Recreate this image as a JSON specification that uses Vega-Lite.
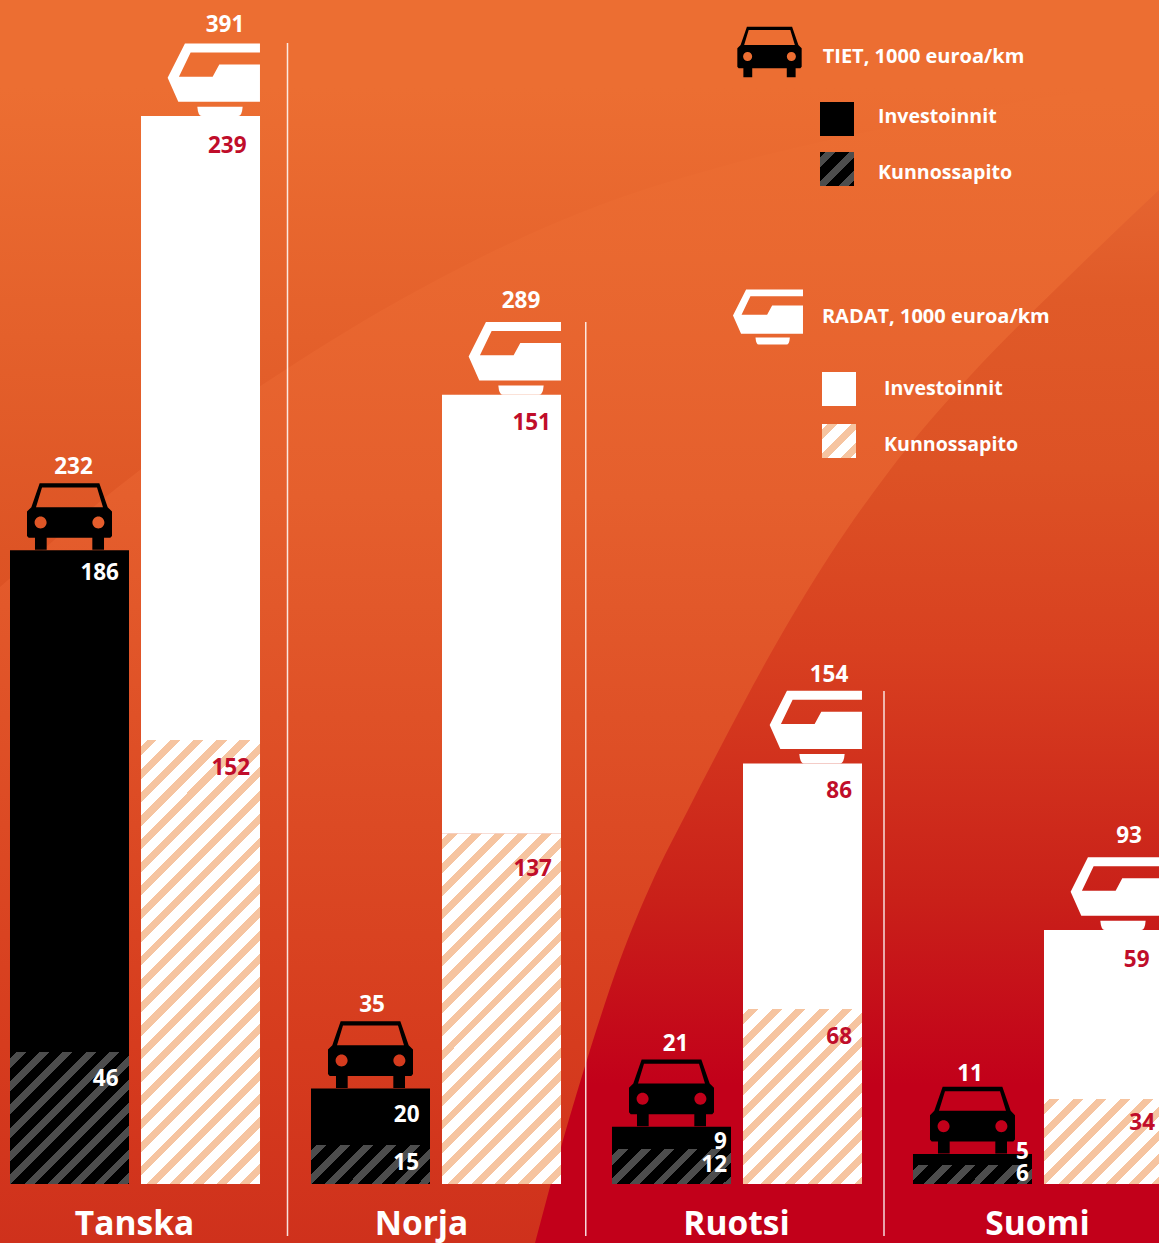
{"$schema":"https://vega.github.io/schema/vega-lite/v6.json","width":1159,"height":1243,"padding":0,"autosize":{"type":"none"},"config":{"view":{"stroke":null},"text":{"font":"Open Sans","fontWeight":700,"fontSize":22.5}},
"datasets":{"palkit":[
{"maa":"Tanska","muoto":"Tiet","laji":"Kunnossapito","alku":0,"loppu":48.3,"arvo":46},
{"maa":"Tanska","muoto":"Tiet","laji":"Investoinnit","alku":48.3,"loppu":232,"arvo":186},
{"maa":"Tanska","muoto":"Radat","laji":"Kunnossapito","alku":0,"loppu":162.6,"arvo":152},
{"maa":"Tanska","muoto":"Radat","laji":"Investoinnit","alku":162.6,"loppu":391,"arvo":239},
{"maa":"Norja","muoto":"Tiet","laji":"Kunnossapito","alku":0,"loppu":14.3,"arvo":15},
{"maa":"Norja","muoto":"Tiet","laji":"Investoinnit","alku":14.3,"loppu":35,"arvo":20},
{"maa":"Norja","muoto":"Radat","laji":"Kunnossapito","alku":0,"loppu":128.2,"arvo":137},
{"maa":"Norja","muoto":"Radat","laji":"Investoinnit","alku":128.2,"loppu":289,"arvo":151},
{"maa":"Ruotsi","muoto":"Tiet","laji":"Kunnossapito","alku":0,"loppu":12.8,"arvo":12},
{"maa":"Ruotsi","muoto":"Tiet","laji":"Investoinnit","alku":12.8,"loppu":21,"arvo":9},
{"maa":"Ruotsi","muoto":"Radat","laji":"Kunnossapito","alku":0,"loppu":64.1,"arvo":68},
{"maa":"Ruotsi","muoto":"Radat","laji":"Investoinnit","alku":64.1,"loppu":154,"arvo":86},
{"maa":"Suomi","muoto":"Tiet","laji":"Kunnossapito","alku":0,"loppu":7,"arvo":6},
{"maa":"Suomi","muoto":"Tiet","laji":"Investoinnit","alku":7,"loppu":11,"arvo":5},
{"maa":"Suomi","muoto":"Radat","laji":"Kunnossapito","alku":0,"loppu":31.1,"arvo":34},
{"maa":"Suomi","muoto":"Radat","laji":"Investoinnit","alku":31.1,"loppu":93,"arvo":59}],
"tausta":[{"x":0},{"x":1159}],
"kaariA":[{"x":0,"y":587},{"x":140,"y":470},{"x":262,"y":385},{"x":400,"y":300},{"x":600,"y":205},{"x":720,"y":167},{"x":900,"y":125},{"x":1050,"y":97},{"x":1159,"y":85}],
"kaariB":[{"x":535,"y":1243},{"x":563,"y":1140},{"x":590,"y":1050},{"x":620,"y":960},{"x":653,"y":880},{"x":687,"y":812},{"x":720,"y":748},{"x":767,"y":660},{"x":830,"y":555},{"x":890,"y":470},{"x":970,"y":376},{"x":1060,"y":285},{"x":1159,"y":190}],
"erottimet":[{"erotin":"Tanska-Norja","yla":417.8,"ala":-19},{"erotin":"Norja-Ruotsi","yla":315.6,"ala":-19},{"erotin":"Ruotsi-Suomi","yla":180.5,"ala":-19}]},
"resolve":{"scale":{"x":"independent","y":"independent"}},
"layer":[
{"data":{"name":"tausta"},"mark":{"type":"area","color":{"gradient":"linear","x1":0,"y1":0,"x2":0,"y2":1,"stops":[{"offset":0,"color":"#ec6e32"},{"offset":0.08,"color":"#ec6e32"},{"offset":0.4,"color":"#e55f2d"},{"offset":0.84,"color":"#d63c1e"},{"offset":1,"color":"#cf311c"}]}},"encoding":{"x":{"field":"x","type":"quantitative","scale":{"domain":[0,1159],"nice":false,"zero":false},"axis":null},"y":{"datum":0,"type":"quantitative","scale":{"domain":[1243,0],"nice":false,"zero":false},"axis":null},"y2":{"datum":1243}}},
{"data":{"name":"kaariA"},"mark":{"type":"area","interpolate":"monotone","color":{"gradient":"linear","x1":0,"y1":0,"x2":0,"y2":1,"stops":[{"offset":0,"color":"#ec6e32"},{"offset":0.15,"color":"#ec6e32"},{"offset":1,"color":"#dc5224"}]}},"encoding":{"x":{"field":"x","type":"quantitative","scale":{"domain":[0,1159],"nice":false,"zero":false},"axis":null},"y":{"field":"y","type":"quantitative","scale":{"domain":[1243,0],"nice":false,"zero":false},"axis":null},"y2":{"datum":0}}},
{"data":{"name":"kaariB"},"mark":{"type":"area","interpolate":"monotone","color":{"gradient":"linear","x1":0,"y1":0,"x2":0,"y2":1,"stops":[{"offset":0,"color":"#e56430"},{"offset":0.104,"color":"#e05a28"},{"offset":0.266,"color":"#dd5225"},{"offset":0.437,"color":"#d84020"},{"offset":0.674,"color":"#c92019"},{"offset":0.85,"color":"#c2001a"},{"offset":1,"color":"#c2001a"}]}},"encoding":{"x":{"field":"x","type":"quantitative","scale":{"domain":[0,1159],"nice":false,"zero":false},"axis":null},"y":{"field":"y","type":"quantitative","scale":{"domain":[1243,0],"nice":false,"zero":false},"axis":null},"y2":{"datum":1243}}},
{"data":{"name":"erottimet"},"mark":{"type":"rule","color":"#fff","strokeWidth":1.5,"opacity":0.85},"encoding":{"x":{"field":"erotin","type":"nominal","sort":null,"scale":{"type":"point","range":[287.5,884],"padding":0},"axis":null},"y":{"field":"yla","type":"quantitative","scale":{"domain":[-21.6,433.5],"nice":false,"zero":false},"axis":null},"y2":{"field":"ala"}}},
{"data":{"name":"palkit"},
"resolve":{"scale":{"shape":"independent"}},
"encoding":{"x":{"field":"maa","type":"nominal","axis":null,"scale":{"domain":["Tanska","Norja","Ruotsi","Suomi"],"range":[10,1163],"paddingInner":0.1694,"paddingOuter":0}},
"xOffset":{"field":"muoto","type":"nominal","scale":{"domain":["Tiet","Radat"],"paddingInner":0.0916,"paddingOuter":0}},
"y":{"field":"loppu","type":"quantitative","axis":null,"scale":{"domain":[-21.6,433.5],"nice":false,"zero":false}}},
"layer":[
{"transform":[{"filter":"datum.muoto=='Tiet'&&datum.laji=='Investoinnit'"}],"mark":{"type":"bar","color":"#000"},"encoding":{"y2":{"field":"alku"}}},
{"transform":[{"filter":"datum.muoto=='Radat'&&datum.laji=='Investoinnit'"}],"mark":{"type":"bar","color":"#fff"},"encoding":{"y2":{"field":"alku"}}},
{"transform":[{"filter":"datum.arvo<0"}],"mark":{"type":"point","filled":true,"opacity":1,"strokeWidth":0,"color":"#000"},"encoding":{"shape":{"field":"laji","type":"nominal","scale":{"domain":["Investoinnit"],"range":["M-1 -.882L1 -.882L1 1.118L-1 1.118Z"]},"legend":{"orient":"none","legendX":820,"legendY":100,"title":null,"padding":0,"symbolSize":1156,"symbolStrokeWidth":0,"symbolOpacity":1,"labelOffset":24,"labelFont":"Open Sans","labelFontWeight":700,"labelFontSize":19.6,"labelColor":"#fff"}}}},
{"transform":[{"filter":"datum.arvo<0"}],"mark":{"type":"point","filled":true,"opacity":1,"strokeWidth":0,"color":{"gradient":"linear","x1":0,"y1":0,"x2":1,"y2":1,"stops":[{"offset":0,"color":"#000"},{"offset":0.088,"color":"#000"},{"offset":0.088,"color":"#4d4d4d"},{"offset":0.235,"color":"#4d4d4d"},{"offset":0.235,"color":"#000"},{"offset":0.431,"color":"#000"},{"offset":0.431,"color":"#4d4d4d"},{"offset":0.578,"color":"#4d4d4d"},{"offset":0.578,"color":"#000"},{"offset":0.775,"color":"#000"},{"offset":0.775,"color":"#4d4d4d"},{"offset":0.922,"color":"#4d4d4d"},{"offset":0.922,"color":"#000"},{"offset":1,"color":"#000"}]}},"encoding":{"shape":{"field":"laji","type":"nominal","scale":{"domain":["Kunnossapito"],"range":["M-1 -1.235L1 -1.235L1 .765L-1 .765Z"]},"legend":{"orient":"none","legendX":820,"legendY":156,"title":null,"padding":0,"symbolSize":1156,"symbolStrokeWidth":0,"symbolOpacity":1,"labelOffset":24,"labelFont":"Open Sans","labelFontWeight":700,"labelFontSize":19.6,"labelColor":"#fff"}}}},
{"transform":[{"filter":"datum.arvo<0"}],"mark":{"type":"point","filled":true,"opacity":1,"strokeWidth":0,"color":"#fff"},"encoding":{"shape":{"field":"laji","type":"nominal","scale":{"domain":["Investoinnit"],"range":["M-1 -1L1 -1L1 1L-1 1Z"]},"legend":{"orient":"none","legendX":822,"legendY":372,"title":null,"padding":0,"symbolSize":1156,"symbolStrokeWidth":0,"symbolOpacity":1,"labelOffset":28,"labelFont":"Open Sans","labelFontWeight":700,"labelFontSize":19.6,"labelColor":"#fff"}}}},
{"transform":[{"filter":"datum.arvo<0"}],"mark":{"type":"point","filled":true,"opacity":1,"strokeWidth":0,"color":{"gradient":"linear","x1":0,"y1":0,"x2":1,"y2":1,"stops":[{"offset":0,"color":"#fff"},{"offset":0.088,"color":"#fff"},{"offset":0.088,"color":"#f6c4a0"},{"offset":0.235,"color":"#f6c4a0"},{"offset":0.235,"color":"#fff"},{"offset":0.431,"color":"#fff"},{"offset":0.431,"color":"#f6c4a0"},{"offset":0.578,"color":"#f6c4a0"},{"offset":0.578,"color":"#fff"},{"offset":0.775,"color":"#fff"},{"offset":0.775,"color":"#f6c4a0"},{"offset":0.922,"color":"#f6c4a0"},{"offset":0.922,"color":"#fff"},{"offset":1,"color":"#fff"}]}},"encoding":{"shape":{"field":"laji","type":"nominal","scale":{"domain":["Kunnossapito"],"range":["M-1 -1.235L1 -1.235L1 .765L-1 .765Z"]},"legend":{"orient":"none","legendX":822,"legendY":428,"title":null,"padding":0,"symbolSize":1156,"symbolStrokeWidth":0,"symbolOpacity":1,"labelOffset":28,"labelFont":"Open Sans","labelFontWeight":700,"labelFontSize":19.6,"labelColor":"#fff"}}}},
{"transform":[{"filter":"datum.arvo==46"}],"mark":{"type":"bar","color":{"gradient":"linear","x1":0,"y1":0,"x2":0.9457,"y2":1.049,"stops":[{"offset":0,"color":"#000"},{"offset":0.024,"color":"#000"},{"offset":0.024,"color":"#4d4d4d"},{"offset":0.064,"color":"#4d4d4d"},{"offset":0.064,"color":"#000"},{"offset":0.117,"color":"#000"},{"offset":0.117,"color":"#4d4d4d"},{"offset":0.157,"color":"#4d4d4d"},{"offset":0.157,"color":"#000"},{"offset":0.21,"color":"#000"},{"offset":0.21,"color":"#4d4d4d"},{"offset":0.25,"color":"#4d4d4d"},{"offset":0.25,"color":"#000"},{"offset":0.303,"color":"#000"},{"offset":0.303,"color":"#4d4d4d"},{"offset":0.343,"color":"#4d4d4d"},{"offset":0.343,"color":"#000"},{"offset":0.396,"color":"#000"},{"offset":0.396,"color":"#4d4d4d"},{"offset":0.436,"color":"#4d4d4d"},{"offset":0.436,"color":"#000"},{"offset":0.489,"color":"#000"},{"offset":0.489,"color":"#4d4d4d"},{"offset":0.529,"color":"#4d4d4d"},{"offset":0.529,"color":"#000"},{"offset":0.582,"color":"#000"},{"offset":0.582,"color":"#4d4d4d"},{"offset":0.622,"color":"#4d4d4d"},{"offset":0.622,"color":"#000"},{"offset":0.675,"color":"#000"},{"offset":0.675,"color":"#4d4d4d"},{"offset":0.714,"color":"#4d4d4d"},{"offset":0.714,"color":"#000"},{"offset":0.768,"color":"#000"},{"offset":0.768,"color":"#4d4d4d"},{"offset":0.807,"color":"#4d4d4d"},{"offset":0.807,"color":"#000"},{"offset":0.861,"color":"#000"},{"offset":0.861,"color":"#4d4d4d"},{"offset":0.9,"color":"#4d4d4d"},{"offset":0.9,"color":"#000"},{"offset":0.954,"color":"#000"},{"offset":0.954,"color":"#4d4d4d"},{"offset":0.993,"color":"#4d4d4d"},{"offset":0.993,"color":"#000"},{"offset":1,"color":"#000"}]}},"encoding":{"y2":{"field":"alku"}}},
{"transform":[{"filter":"datum.arvo==15"}],"mark":{"type":"bar","color":{"gradient":"linear","x1":0,"y1":0,"x2":1.199,"y2":0.3929,"stops":[{"offset":0,"color":"#000"},{"offset":0.038,"color":"#000"},{"offset":0.038,"color":"#4d4d4d"},{"offset":0.101,"color":"#4d4d4d"},{"offset":0.101,"color":"#000"},{"offset":0.186,"color":"#000"},{"offset":0.186,"color":"#4d4d4d"},{"offset":0.249,"color":"#4d4d4d"},{"offset":0.249,"color":"#000"},{"offset":0.333,"color":"#000"},{"offset":0.333,"color":"#4d4d4d"},{"offset":0.397,"color":"#4d4d4d"},{"offset":0.397,"color":"#000"},{"offset":0.481,"color":"#000"},{"offset":0.481,"color":"#4d4d4d"},{"offset":0.544,"color":"#4d4d4d"},{"offset":0.544,"color":"#000"},{"offset":0.629,"color":"#000"},{"offset":0.629,"color":"#4d4d4d"},{"offset":0.692,"color":"#4d4d4d"},{"offset":0.692,"color":"#000"},{"offset":0.776,"color":"#000"},{"offset":0.776,"color":"#4d4d4d"},{"offset":0.84,"color":"#4d4d4d"},{"offset":0.84,"color":"#000"},{"offset":0.924,"color":"#000"},{"offset":0.924,"color":"#4d4d4d"},{"offset":0.987,"color":"#4d4d4d"},{"offset":0.987,"color":"#000"},{"offset":1,"color":"#000"}]}},"encoding":{"y2":{"field":"alku"}}},
{"transform":[{"filter":"datum.arvo==12"}],"mark":{"type":"bar","color":{"gradient":"linear","x1":0,"y1":0,"x2":1.1911,"y2":0.3503,"stops":[{"offset":0,"color":"#000"},{"offset":0.039,"color":"#000"},{"offset":0.039,"color":"#4d4d4d"},{"offset":0.104,"color":"#4d4d4d"},{"offset":0.104,"color":"#000"},{"offset":0.19,"color":"#000"},{"offset":0.19,"color":"#4d4d4d"},{"offset":0.255,"color":"#4d4d4d"},{"offset":0.255,"color":"#000"},{"offset":0.342,"color":"#000"},{"offset":0.342,"color":"#4d4d4d"},{"offset":0.407,"color":"#4d4d4d"},{"offset":0.407,"color":"#000"},{"offset":0.494,"color":"#000"},{"offset":0.494,"color":"#4d4d4d"},{"offset":0.558,"color":"#4d4d4d"},{"offset":0.558,"color":"#000"},{"offset":0.645,"color":"#000"},{"offset":0.645,"color":"#4d4d4d"},{"offset":0.71,"color":"#4d4d4d"},{"offset":0.71,"color":"#000"},{"offset":0.797,"color":"#000"},{"offset":0.797,"color":"#4d4d4d"},{"offset":0.862,"color":"#4d4d4d"},{"offset":0.862,"color":"#000"},{"offset":0.948,"color":"#000"},{"offset":0.948,"color":"#4d4d4d"},{"offset":1,"color":"#4d4d4d"}]}},"encoding":{"y2":{"field":"alku"}}},
{"transform":[{"filter":"datum.arvo==6"}],"mark":{"type":"bar","color":{"gradient":"linear","x1":0,"y1":0,"x2":1.1308,"y2":0.1806,"stops":[{"offset":0,"color":"#000"},{"offset":0.043,"color":"#000"},{"offset":0.043,"color":"#4d4d4d"},{"offset":0.116,"color":"#4d4d4d"},{"offset":0.116,"color":"#000"},{"offset":0.213,"color":"#000"},{"offset":0.213,"color":"#4d4d4d"},{"offset":0.285,"color":"#4d4d4d"},{"offset":0.285,"color":"#000"},{"offset":0.382,"color":"#000"},{"offset":0.382,"color":"#4d4d4d"},{"offset":0.454,"color":"#4d4d4d"},{"offset":0.454,"color":"#000"},{"offset":0.551,"color":"#000"},{"offset":0.551,"color":"#4d4d4d"},{"offset":0.623,"color":"#4d4d4d"},{"offset":0.623,"color":"#000"},{"offset":0.72,"color":"#000"},{"offset":0.72,"color":"#4d4d4d"},{"offset":0.792,"color":"#4d4d4d"},{"offset":0.792,"color":"#000"},{"offset":0.889,"color":"#000"},{"offset":0.889,"color":"#4d4d4d"},{"offset":0.961,"color":"#4d4d4d"},{"offset":0.961,"color":"#000"},{"offset":1,"color":"#000"}]}},"encoding":{"y2":{"field":"alku"}}},
{"transform":[{"filter":"datum.arvo==152"}],"mark":{"type":"bar","color":{"gradient":"linear","x1":0,"y1":0,"x2":0.3171,"y2":1.183,"stops":[{"offset":0,"color":"#fff"},{"offset":0.011,"color":"#fff"},{"offset":0.011,"color":"#f6c4a0"},{"offset":0.028,"color":"#f6c4a0"},{"offset":0.028,"color":"#fff"},{"offset":0.052,"color":"#fff"},{"offset":0.052,"color":"#f6c4a0"},{"offset":0.07,"color":"#f6c4a0"},{"offset":0.07,"color":"#fff"},{"offset":0.094,"color":"#fff"},{"offset":0.094,"color":"#f6c4a0"},{"offset":0.111,"color":"#f6c4a0"},{"offset":0.111,"color":"#fff"},{"offset":0.135,"color":"#fff"},{"offset":0.135,"color":"#f6c4a0"},{"offset":0.153,"color":"#f6c4a0"},{"offset":0.153,"color":"#fff"},{"offset":0.176,"color":"#fff"},{"offset":0.176,"color":"#f6c4a0"},{"offset":0.194,"color":"#f6c4a0"},{"offset":0.194,"color":"#fff"},{"offset":0.218,"color":"#fff"},{"offset":0.218,"color":"#f6c4a0"},{"offset":0.236,"color":"#f6c4a0"},{"offset":0.236,"color":"#fff"},{"offset":0.259,"color":"#fff"},{"offset":0.259,"color":"#f6c4a0"},{"offset":0.277,"color":"#f6c4a0"},{"offset":0.277,"color":"#fff"},{"offset":0.301,"color":"#fff"},{"offset":0.301,"color":"#f6c4a0"},{"offset":0.319,"color":"#f6c4a0"},{"offset":0.319,"color":"#fff"},{"offset":0.342,"color":"#fff"},{"offset":0.342,"color":"#f6c4a0"},{"offset":0.36,"color":"#f6c4a0"},{"offset":0.36,"color":"#fff"},{"offset":0.384,"color":"#fff"},{"offset":0.384,"color":"#f6c4a0"},{"offset":0.401,"color":"#f6c4a0"},{"offset":0.401,"color":"#fff"},{"offset":0.425,"color":"#fff"},{"offset":0.425,"color":"#f6c4a0"},{"offset":0.443,"color":"#f6c4a0"},{"offset":0.443,"color":"#fff"},{"offset":0.467,"color":"#fff"},{"offset":0.467,"color":"#f6c4a0"},{"offset":0.484,"color":"#f6c4a0"},{"offset":0.484,"color":"#fff"},{"offset":0.508,"color":"#fff"},{"offset":0.508,"color":"#f6c4a0"},{"offset":0.526,"color":"#f6c4a0"},{"offset":0.526,"color":"#fff"},{"offset":0.549,"color":"#fff"},{"offset":0.549,"color":"#f6c4a0"},{"offset":0.567,"color":"#f6c4a0"},{"offset":0.567,"color":"#fff"},{"offset":0.591,"color":"#fff"},{"offset":0.591,"color":"#f6c4a0"},{"offset":0.609,"color":"#f6c4a0"},{"offset":0.609,"color":"#fff"},{"offset":0.632,"color":"#fff"},{"offset":0.632,"color":"#f6c4a0"},{"offset":0.65,"color":"#f6c4a0"},{"offset":0.65,"color":"#fff"},{"offset":0.674,"color":"#fff"},{"offset":0.674,"color":"#f6c4a0"},{"offset":0.692,"color":"#f6c4a0"},{"offset":0.692,"color":"#fff"},{"offset":0.715,"color":"#fff"},{"offset":0.715,"color":"#f6c4a0"},{"offset":0.733,"color":"#f6c4a0"},{"offset":0.733,"color":"#fff"},{"offset":0.757,"color":"#fff"},{"offset":0.757,"color":"#f6c4a0"},{"offset":0.774,"color":"#f6c4a0"},{"offset":0.774,"color":"#fff"},{"offset":0.798,"color":"#fff"},{"offset":0.798,"color":"#f6c4a0"},{"offset":0.816,"color":"#f6c4a0"},{"offset":0.816,"color":"#fff"},{"offset":0.84,"color":"#fff"},{"offset":0.84,"color":"#f6c4a0"},{"offset":0.857,"color":"#f6c4a0"},{"offset":0.857,"color":"#fff"},{"offset":0.881,"color":"#fff"},{"offset":0.881,"color":"#f6c4a0"},{"offset":0.899,"color":"#f6c4a0"},{"offset":0.899,"color":"#fff"},{"offset":0.922,"color":"#fff"},{"offset":0.922,"color":"#f6c4a0"},{"offset":0.94,"color":"#f6c4a0"},{"offset":0.94,"color":"#fff"},{"offset":0.964,"color":"#fff"},{"offset":0.964,"color":"#f6c4a0"},{"offset":0.982,"color":"#f6c4a0"},{"offset":0.982,"color":"#fff"},{"offset":1,"color":"#fff"}]}},"encoding":{"y2":{"field":"alku"}}},
{"transform":[{"filter":"datum.arvo==137"}],"mark":{"type":"bar","color":{"gradient":"linear","x1":0,"y1":0,"x2":0.4084,"y2":1.2011,"stops":[{"offset":0,"color":"#fff"},{"offset":0.013,"color":"#fff"},{"offset":0.013,"color":"#f6c4a0"},{"offset":0.034,"color":"#f6c4a0"},{"offset":0.034,"color":"#fff"},{"offset":0.063,"color":"#fff"},{"offset":0.063,"color":"#f6c4a0"},{"offset":0.084,"color":"#f6c4a0"},{"offset":0.084,"color":"#fff"},{"offset":0.112,"color":"#fff"},{"offset":0.112,"color":"#f6c4a0"},{"offset":0.134,"color":"#f6c4a0"},{"offset":0.134,"color":"#fff"},{"offset":0.162,"color":"#fff"},{"offset":0.162,"color":"#f6c4a0"},{"offset":0.183,"color":"#f6c4a0"},{"offset":0.183,"color":"#fff"},{"offset":0.212,"color":"#fff"},{"offset":0.212,"color":"#f6c4a0"},{"offset":0.233,"color":"#f6c4a0"},{"offset":0.233,"color":"#fff"},{"offset":0.262,"color":"#fff"},{"offset":0.262,"color":"#f6c4a0"},{"offset":0.283,"color":"#f6c4a0"},{"offset":0.283,"color":"#fff"},{"offset":0.311,"color":"#fff"},{"offset":0.311,"color":"#f6c4a0"},{"offset":0.333,"color":"#f6c4a0"},{"offset":0.333,"color":"#fff"},{"offset":0.361,"color":"#fff"},{"offset":0.361,"color":"#f6c4a0"},{"offset":0.382,"color":"#f6c4a0"},{"offset":0.382,"color":"#fff"},{"offset":0.411,"color":"#fff"},{"offset":0.411,"color":"#f6c4a0"},{"offset":0.432,"color":"#f6c4a0"},{"offset":0.432,"color":"#fff"},{"offset":0.461,"color":"#fff"},{"offset":0.461,"color":"#f6c4a0"},{"offset":0.482,"color":"#f6c4a0"},{"offset":0.482,"color":"#fff"},{"offset":0.51,"color":"#fff"},{"offset":0.51,"color":"#f6c4a0"},{"offset":0.532,"color":"#f6c4a0"},{"offset":0.532,"color":"#fff"},{"offset":0.56,"color":"#fff"},{"offset":0.56,"color":"#f6c4a0"},{"offset":0.581,"color":"#f6c4a0"},{"offset":0.581,"color":"#fff"},{"offset":0.61,"color":"#fff"},{"offset":0.61,"color":"#f6c4a0"},{"offset":0.631,"color":"#f6c4a0"},{"offset":0.631,"color":"#fff"},{"offset":0.66,"color":"#fff"},{"offset":0.66,"color":"#f6c4a0"},{"offset":0.681,"color":"#f6c4a0"},{"offset":0.681,"color":"#fff"},{"offset":0.709,"color":"#fff"},{"offset":0.709,"color":"#f6c4a0"},{"offset":0.731,"color":"#f6c4a0"},{"offset":0.731,"color":"#fff"},{"offset":0.759,"color":"#fff"},{"offset":0.759,"color":"#f6c4a0"},{"offset":0.78,"color":"#f6c4a0"},{"offset":0.78,"color":"#fff"},{"offset":0.809,"color":"#fff"},{"offset":0.809,"color":"#f6c4a0"},{"offset":0.83,"color":"#f6c4a0"},{"offset":0.83,"color":"#fff"},{"offset":0.859,"color":"#fff"},{"offset":0.859,"color":"#f6c4a0"},{"offset":0.88,"color":"#f6c4a0"},{"offset":0.88,"color":"#fff"},{"offset":0.908,"color":"#fff"},{"offset":0.908,"color":"#f6c4a0"},{"offset":0.93,"color":"#f6c4a0"},{"offset":0.93,"color":"#fff"},{"offset":0.958,"color":"#fff"},{"offset":0.958,"color":"#f6c4a0"},{"offset":0.979,"color":"#f6c4a0"},{"offset":0.979,"color":"#fff"},{"offset":1,"color":"#fff"}]}},"encoding":{"y2":{"field":"alku"}}},
{"transform":[{"filter":"datum.arvo==68"}],"mark":{"type":"bar","color":{"gradient":"linear","x1":0,"y1":0,"x2":0.7812,"y2":1.1488,"stops":[{"offset":0,"color":"#fff"},{"offset":0.02,"color":"#fff"},{"offset":0.02,"color":"#f6c4a0"},{"offset":0.054,"color":"#f6c4a0"},{"offset":0.054,"color":"#fff"},{"offset":0.1,"color":"#fff"},{"offset":0.1,"color":"#f6c4a0"},{"offset":0.134,"color":"#f6c4a0"},{"offset":0.134,"color":"#fff"},{"offset":0.179,"color":"#fff"},{"offset":0.179,"color":"#f6c4a0"},{"offset":0.213,"color":"#f6c4a0"},{"offset":0.213,"color":"#fff"},{"offset":0.259,"color":"#fff"},{"offset":0.259,"color":"#f6c4a0"},{"offset":0.293,"color":"#f6c4a0"},{"offset":0.293,"color":"#fff"},{"offset":0.338,"color":"#fff"},{"offset":0.338,"color":"#f6c4a0"},{"offset":0.372,"color":"#f6c4a0"},{"offset":0.372,"color":"#fff"},{"offset":0.417,"color":"#fff"},{"offset":0.417,"color":"#f6c4a0"},{"offset":0.451,"color":"#f6c4a0"},{"offset":0.451,"color":"#fff"},{"offset":0.497,"color":"#fff"},{"offset":0.497,"color":"#f6c4a0"},{"offset":0.531,"color":"#f6c4a0"},{"offset":0.531,"color":"#fff"},{"offset":0.576,"color":"#fff"},{"offset":0.576,"color":"#f6c4a0"},{"offset":0.61,"color":"#f6c4a0"},{"offset":0.61,"color":"#fff"},{"offset":0.655,"color":"#fff"},{"offset":0.655,"color":"#f6c4a0"},{"offset":0.689,"color":"#f6c4a0"},{"offset":0.689,"color":"#fff"},{"offset":0.735,"color":"#fff"},{"offset":0.735,"color":"#f6c4a0"},{"offset":0.769,"color":"#f6c4a0"},{"offset":0.769,"color":"#fff"},{"offset":0.814,"color":"#fff"},{"offset":0.814,"color":"#f6c4a0"},{"offset":0.848,"color":"#f6c4a0"},{"offset":0.848,"color":"#fff"},{"offset":0.893,"color":"#fff"},{"offset":0.893,"color":"#f6c4a0"},{"offset":0.927,"color":"#f6c4a0"},{"offset":0.927,"color":"#fff"},{"offset":0.973,"color":"#fff"},{"offset":0.973,"color":"#f6c4a0"},{"offset":1,"color":"#f6c4a0"}]}},"encoding":{"y2":{"field":"alku"}}},
{"transform":[{"filter":"datum.arvo==34"}],"mark":{"type":"bar","color":{"gradient":"linear","x1":0,"y1":0,"x2":1.1351,"y2":0.8108,"stops":[{"offset":0,"color":"#fff"},{"offset":0.029,"color":"#fff"},{"offset":0.029,"color":"#f6c4a0"},{"offset":0.078,"color":"#f6c4a0"},{"offset":0.078,"color":"#fff"},{"offset":0.144,"color":"#fff"},{"offset":0.144,"color":"#f6c4a0"},{"offset":0.193,"color":"#f6c4a0"},{"offset":0.193,"color":"#fff"},{"offset":0.258,"color":"#fff"},{"offset":0.258,"color":"#f6c4a0"},{"offset":0.307,"color":"#f6c4a0"},{"offset":0.307,"color":"#fff"},{"offset":0.373,"color":"#fff"},{"offset":0.373,"color":"#f6c4a0"},{"offset":0.422,"color":"#f6c4a0"},{"offset":0.422,"color":"#fff"},{"offset":0.487,"color":"#fff"},{"offset":0.487,"color":"#f6c4a0"},{"offset":0.536,"color":"#f6c4a0"},{"offset":0.536,"color":"#fff"},{"offset":0.601,"color":"#fff"},{"offset":0.601,"color":"#f6c4a0"},{"offset":0.65,"color":"#f6c4a0"},{"offset":0.65,"color":"#fff"},{"offset":0.716,"color":"#fff"},{"offset":0.716,"color":"#f6c4a0"},{"offset":0.765,"color":"#f6c4a0"},{"offset":0.765,"color":"#fff"},{"offset":0.83,"color":"#fff"},{"offset":0.83,"color":"#f6c4a0"},{"offset":0.879,"color":"#f6c4a0"},{"offset":0.879,"color":"#fff"},{"offset":0.944,"color":"#fff"},{"offset":0.944,"color":"#f6c4a0"},{"offset":0.993,"color":"#f6c4a0"},{"offset":0.993,"color":"#fff"},{"offset":1,"color":"#fff"}]}},"encoding":{"y2":{"field":"alku"}}},
{"transform":[{"filter":"datum.muoto=='Tiet'&&datum.laji=='Investoinnit'"}],"mark":{"type":"point","filled":true,"opacity":1,"size":7225,"yOffset":-26.8,"color":"#000","strokeWidth":0},"encoding":{"shape":{"field":"muoto","type":"nominal","scale":{"domain":["Tiet"],"range":["M-.702 -.949L.702 -.949L.898 -.385L1 -.283L1 .29L.96 .337L.812 .337L.812 .619L.537 .619L.537 .337L-.537 .337L-.537 .619L-.812 .619L-.812 .337L-.96 .337L-1 .29L-1 -.283L-.898 -.385ZM-.647 -.847L-.788 -.385L.788 -.385L.647 -.847ZM-.821 -.024A.141 .141 0 1 0 -.539 -.024A.141 .141 0 1 0 -.821 -.024ZM.539 -.024A.141 .141 0 1 0 .821 -.024A.141 .141 0 1 0 .539 -.024Z"]},"legend":{"orient":"none","legendX":737,"legendY":24.85,"title":null,"padding":0,"symbolSize":4140,"symbolFillColor":"#000","symbolStrokeWidth":0,"labelOffset":20.7,"labelFont":"Open Sans","labelFontWeight":700,"labelFontSize":20,"labelColor":"#fff","labelExpr":"'TIET, 1000 euroa/km'","labelLimit":400}}}},
{"transform":[{"filter":"datum.muoto=='Radat'&&datum.laji=='Investoinnit'"}],"mark":{"type":"point","filled":true,"opacity":1,"size":8525,"yOffset":-36.3,"color":"#fff","strokeWidth":0},"encoding":{"shape":{"field":"muoto","type":"nominal","scale":{"domain":["Radat"],"range":["M-.337 -.787L1.288 -.787L1.288 -.592L-.214 -.592L-.467 -.065L.263 -.065L.407 -.332L1.288 -.332L1.288 .477L-.481 .477L-.712 -.043ZM-.069 .585L.913 .585Q.898 .787 .819 .787L.024 .787Q-.052 .787 -.069 .585Z"]},"legend":{"orient":"none","legendX":722.9,"legendY":282,"title":null,"padding":0,"symbolSize":4900,"symbolFillColor":"#fff","symbolStrokeWidth":0,"labelOffset":29,"labelFont":"Open Sans","labelFontWeight":700,"labelFontSize":20,"labelColor":"#fff","labelExpr":"'RADAT, 1000 euroa/km'","labelLimit":400}}}},
{"transform":[{"filter":{"field":"arvo","oneOf":[186]}}],"mark":{"type":"text","align":"right","color":"#fff","dx":49.5,"dy":23},"encoding":{"text":{"field":"arvo"}}},
{"transform":[{"filter":{"field":"arvo","oneOf":[46,20]}}],"mark":{"type":"text","align":"right","color":"#fff","dx":49,"dy":27},"encoding":{"text":{"field":"arvo"}}},
{"transform":[{"filter":{"field":"arvo","oneOf":[15]}}],"mark":{"type":"text","align":"right","color":"#fff","dx":48.5,"dy":18},"encoding":{"text":{"field":"arvo"}}},
{"transform":[{"filter":{"field":"arvo","oneOf":[9,12]}}],"mark":{"type":"text","align":"right","color":"#fff","dx":55.5,"dy":15.5},"encoding":{"text":{"field":"arvo"}}},
{"transform":[{"filter":{"field":"arvo","oneOf":[5]}}],"mark":{"type":"text","align":"right","color":"#fff","dx":56.5,"dy":-2},"encoding":{"text":{"field":"arvo"}}},
{"transform":[{"filter":{"field":"arvo","oneOf":[6]}}],"mark":{"type":"text","align":"right","color":"#fff","dx":56.5,"dy":9},"encoding":{"text":{"field":"arvo"}}},
{"transform":[{"filter":{"field":"arvo","oneOf":[239,59]}}],"mark":{"type":"text","align":"right","color":"#c00d2a","dx":46,"dy":30},"encoding":{"text":{"field":"arvo"}}},
{"transform":[{"filter":{"field":"arvo","oneOf":[152,151,86,68]}}],"mark":{"type":"text","align":"right","color":"#c00d2a","dx":49.5,"dy":28},"encoding":{"text":{"field":"arvo"}}},
{"transform":[{"filter":{"field":"arvo","oneOf":[137]}}],"mark":{"type":"text","align":"right","color":"#c00d2a","dx":50.5,"dy":35},"encoding":{"text":{"field":"arvo"}}},
{"transform":[{"filter":{"field":"arvo","oneOf":[34]}}],"mark":{"type":"text","align":"right","color":"#c00d2a","dx":51.5,"dy":24},"encoding":{"text":{"field":"arvo"}}},
{"transform":[{"filter":{"field":"arvo","oneOf":[186,9]}}],"mark":{"type":"text","color":"#fff","dx":4,"dy":-83},"encoding":{"text":{"field":"loppu"}}},
{"transform":[{"filter":{"field":"arvo","oneOf":[20]}}],"mark":{"type":"text","color":"#fff","dx":1.5,"dy":-83},"encoding":{"text":{"field":"loppu"}}},
{"transform":[{"filter":{"field":"arvo","oneOf":[5]}}],"mark":{"type":"text","color":"#fff","dx":-2.5,"dy":-80},"encoding":{"text":{"field":"loppu"}}},
{"transform":[{"filter":{"field":"arvo","oneOf":[239]}}],"mark":{"type":"text","color":"#fff","dx":24.5,"dy":-91},"encoding":{"text":{"field":"loppu"}}},
{"transform":[{"filter":{"field":"arvo","oneOf":[151]}}],"mark":{"type":"text","color":"#fff","dx":19.5,"dy":-93.5},"encoding":{"text":{"field":"loppu"}}},
{"transform":[{"filter":{"field":"arvo","oneOf":[86]}}],"mark":{"type":"text","color":"#fff","dx":26.5,"dy":-88},"encoding":{"text":{"field":"loppu"}}},
{"transform":[{"filter":{"field":"arvo","oneOf":[59]}}],"mark":{"type":"text","color":"#fff","dx":25.5,"dy":-94},"encoding":{"text":{"field":"loppu"}}},
{"transform":[{"filter":"datum.muoto=='Tiet'&&datum.laji=='Investoinnit'&&datum.maa!='Norja'"}],"mark":{"type":"text","color":"#fff","fontSize":33.5,"dx":65,"dy":1.5},"encoding":{"y":{"datum":-14.3,"scale":{"domain":[-21.6,433.5],"nice":false,"zero":false},"axis":null},"text":{"field":"maa"}}},
{"transform":[{"filter":"datum.muoto=='Tiet'&&datum.laji=='Investoinnit'&&datum.maa=='Norja'"}],"mark":{"type":"text","color":"#fff","fontSize":33.5,"dx":51,"dy":1.5},"encoding":{"y":{"datum":-14.3,"scale":{"domain":[-21.6,433.5],"nice":false,"zero":false},"axis":null},"text":{"field":"maa"}}}
]}
]}
